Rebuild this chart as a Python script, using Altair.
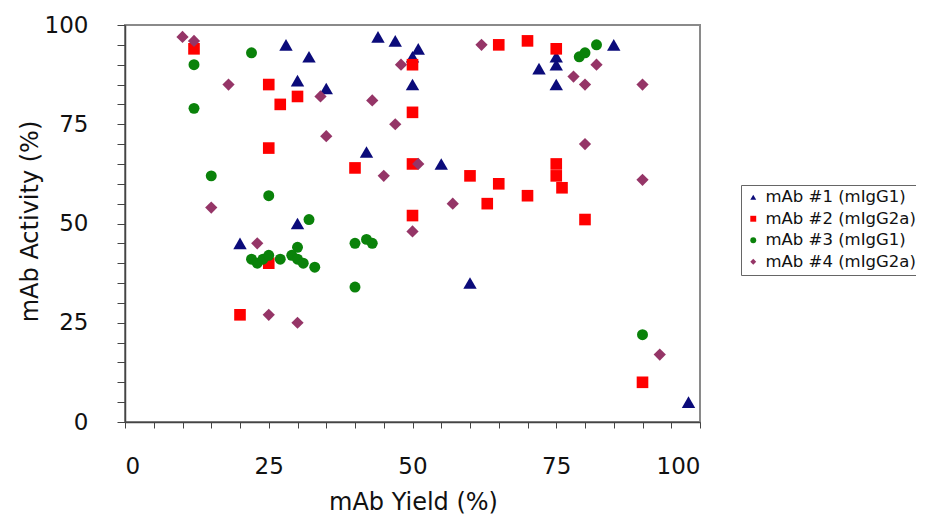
import altair as alt
import pandas as pd

series_names = ["mAb #1 (mIgG1)", "mAb #2 (mIgG2a)", "mAb #3 (mIgG1)", "mAb #4 (mIgG2a)"]
series_colors = ["#0b0b7a", "#ff0000", "#0a820a", "#953567"]
series_shapes = ["triangle-up", "square", "circle", "diamond"]
series_sizes = [180, 135, 120, 150]

s1_x = [20, 28, 30, 32, 35, 30, 44, 47, 51, 50, 50, 42, 55, 60, 72, 75, 75, 75, 85, 98]
s1_y = [45, 95, 86, 92, 84, 50, 97, 96, 94, 92, 85, 68, 65, 35, 89, 92, 90, 85, 95, 5]

s2_x = [12, 25, 30, 27, 25, 20, 25, 40, 50, 50, 50, 50, 60, 63, 65, 65, 70, 70, 75, 75, 75, 76, 80, 90]
s2_y = [94, 85, 82, 80, 69, 27, 40, 64, 90, 78, 65, 52, 62, 55, 95, 60, 96, 57, 94, 65, 62, 59, 51, 10]

s3_x = [12, 12, 22, 15, 25, 32, 22, 23, 24, 25, 27, 29, 30, 30, 31, 33, 40, 42, 43, 40, 79, 80, 82, 90]
s3_y = [90, 79, 93, 62, 57, 51, 41, 40, 41, 42, 41, 42, 44, 41, 40, 39, 45, 46, 45, 34, 92, 93, 95, 22]

s4_x = [10, 12, 18, 15, 34, 35, 23, 25, 30, 43, 48, 47, 45, 50, 51, 57, 62, 78, 80, 82, 80, 90, 90, 93]
s4_y = [97, 96, 85, 54, 82, 72, 45, 27, 25, 81, 90, 75, 62, 48, 65, 55, 95, 87, 85, 90, 70, 85, 61, 17]

tick_values = list(range(0, 101, 5))

rows = []
for name, sz, xs, ys in zip(series_names, series_sizes, [s1_x, s2_x, s3_x, s4_x], [s1_y, s2_y, s3_y, s4_y]):
    for x, y in zip(xs, ys):
        rows.append({"series": name, "yield": x, "activity": y, "sz": sz})
df = pd.DataFrame(rows)

FONT = "DejaVu Sans"

points = alt.Chart(df).mark_point(filled=True, opacity=1).encode(
    x=alt.X("yield:Q",
            scale=alt.Scale(domain=[0, 100], nice=False, zero=False),
            axis=alt.Axis(title="mAb Yield (%)", values=tick_values,
                          labelExpr="datum.value % 25 == 0 ? datum.label : ''",
                          grid=False, tickSize=6, labelPadding=27,
                          labelFontSize=23, titleFontSize=24,
                          titleX=288, titleY=80, titleBaseline="middle",
                          titleFontWeight="normal")),
    y=alt.Y("activity:Q",
            scale=alt.Scale(domain=[0, 100], nice=False, zero=False),
            axis=alt.Axis(title="mAb Activity (%)", values=tick_values,
                          labelExpr="datum.value % 25 == 0 ? datum.label : ''",
                          grid=False, tickSize=8, labelPadding=29,
                          labelFontSize=23, titleFontSize=24,
                          titleX=-95, titleY=196, titleBaseline="middle",
                          titleAngle=-90, titleFontWeight="normal")),
    color=alt.Color("series:N",
                    scale=alt.Scale(domain=series_names, range=series_colors),
                    legend=alt.Legend(title=None, orient="none", legendX=616, legendY=160,
                                      labelFontSize=16.5, symbolSize=35, rowPadding=4.5,
                                      strokeColor="#666", padding=4, labelLimit=300,
                                      symbolStrokeWidth=0)),
    shape=alt.Shape("series:N",
                    scale=alt.Scale(domain=series_names, range=series_shapes)),
    size=alt.Size("sz:Q", scale=None, legend=None),
)

chart = points.properties(
    width=575, height=397,
    autosize=alt.AutoSizeParams(type="none"),
    padding={"left": 117, "top": 17, "right": 216, "bottom": 97},
).configure(
    font=FONT,
).configure_view(
    stroke="#8a8a8a", strokeWidth=2,
).configure_axis(
    domainColor="#444", domainWidth=1.5, tickColor="#444", tickWidth=1,
    labelColor="#111", titleColor="#111", labelFont=FONT, titleFont=FONT,
).configure_legend(
    labelFont=FONT, labelColor="#111",
)

chart.save("out.html", embed_options={"renderer": "svg", "actions": False})
